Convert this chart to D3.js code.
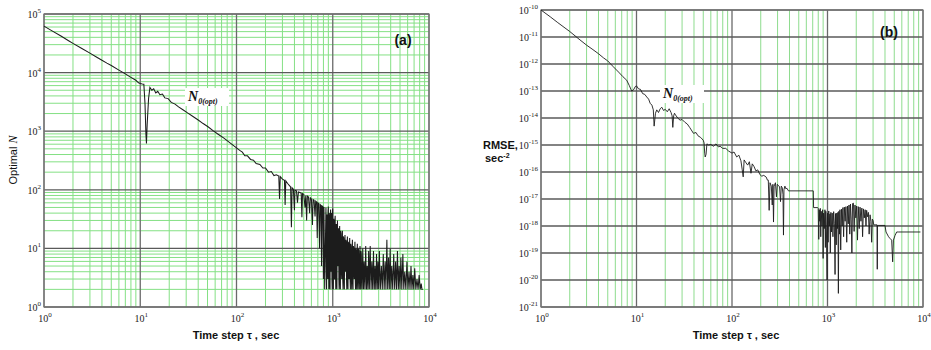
<!DOCTYPE html>
<html>
<head>
<meta charset="utf-8">
<script src="https://cdn.jsdelivr.net/npm/d3@7"></script>
<style>
  body { margin: 0; background: #fff; }
  svg { display: block; }
</style>
</head>
<body>
<div id="chart"></div>
<script>
// ---- data ----
// tick exponents (labels are 10^e)
const xTickExp = [0, 1, 2, 3, 4];
const yTickExpA = [0, 1, 2, 3, 4, 5];
const yTickExpB = [-21, -20, -19, -18, -17, -16, -15, -14, -13, -12, -11, -10];

// panel (a): optimal N vs time step tau [sec, N]
const optNSmooth = [[1,62000],[1.2,52000],[1.5,42000],[1.8,35000],[2,31500],[2.5,25500],[3,21500],[3.5,18500],[4,16200],[4.5,14500],[5,13200],[6,11000],[7,9500],[8,8300],[9,7400],[9.6,6700],[10,6500],[10.5,6400],[10.9,6350],[11.2,3000],[11.45,900],[11.6,620],[11.8,1300],[12.2,3600],[12.6,5600],[13.2,5000],[13.8,5300],[14.5,4500],[15.2,4800],[16,4200],[17,4300],[18,3700],[19.5,3600],[21,3100],[23,2900],[25,2600],[28,2300],[31,2050],[35,1800],[40,1550],[45,1350],[51,1180],[57,1020],[65,880],[74,760],[85,640],[100,520],[108,470],[115,440],[122,380],[130,380],[140,330],[150,320],[160,280],[175,270],[188,235],[200,235],[215,200],[230,205],[245,175],[260,180]];
const optNSpiky = [[275,172],[280,70],[285,168],[300,152],[315,145],[320,55],[325,142],[340,128],[355,118],[365,112],[372,23],[378,108],[390,102],[400,45],[405,98],[420,96],[430,60],[440,92],[455,90],[470,88],[478,34],[485,86],[500,84],[515,50],[525,80],[535,30],[545,78],[560,75],[575,40],[585,73],[600,70],[615,25],[625,68],[640,66],[655,35],[665,64],[680,62],[690,15],[700,60],[715,58],[730,10],[740,56],[755,54],[765,5],[775,53],[790,52],[800,3],[810,51],[825,2]];
const optNDense = [[850,50],[856,8],[862,2],[868,34],[875,38],[881,4],[887,3],[894,44],[900,52],[906,6],[912,2],[918,40],[925,30],[931,3],[937,2],[943,36],[950,46],[956,5],[962,4],[968,30],[975,40],[981,3],[987,2],[993,42],[1000,48],[1008,4],[1015,2],[1022,32],[1030,28],[1038,3],[1045,3],[1052,30],[1060,36],[1068,4],[1075,2],[1082,24],[1090,26],[1098,3],[1105,2],[1112,22],[1120,30],[1128,6],[1135,5],[1142,20],[1150,22],[1158,3],[1165,2],[1172,18],[1180,24],[1190,3],[1200,2],[1210,20],[1220,18],[1230,4],[1240,3],[1250,14],[1260,20],[1270,3],[1280,2],[1290,16],[1300,15],[1310,3],[1320,2],[1330,12],[1340,17],[1350,5],[1360,4],[1370,14],[1380,13],[1390,3],[1400,2],[1410,11],[1420,16],[1430,3],[1440,2],[1450,13],[1460,12],[1470,4],[1480,3],[1490,10],[1500,15],[1512,3],[1525,2],[1537,12],[1550,11],[1562,3],[1575,2],[1587,9],[1600,14],[1612,3],[1625,2],[1637,11],[1650,10],[1662,4],[1675,3],[1687,8],[1700,13],[1712,3],[1725,2],[1737,10],[1750,9],[1762,3],[1775,2],[1787,8],[1800,12],[1815,3],[1830,2],[1845,10],[1860,9],[1875,3],[1890,2],[1905,7],[1920,11],[1935,3],[1950,2],[1965,9],[1980,8],[1997,3],[2015,2]];
const optNTail = [[2050,10],[2085,2],[2120,6],[2160,2],[2200,11],[2240,2],[2280,5],[2320,2],[2360,9],[2400,2],[2450,11],[2500,2],[2550,6],[2600,2],[2650,9],[2700,2],[2750,5],[2800,2],[2850,8],[2900,2],[2950,6],[3000,2],[3050,9],[3120,2],[3200,5],[3270,2],[3350,8],[3420,2],[3500,6],[3570,2],[3650,14],[3720,2],[3800,7],[3870,2],[3950,10],[4020,2],[4100,5],[4200,2],[4300,8],[4400,2],[4500,6],[4600,2],[4700,9],[4800,2],[4900,5],[5000,2],[5100,7],[5220,2],[5350,8],[5470,2],[5600,4],[5750,2],[5900,6],[6050,2],[6200,4],[6350,2],[6500,5],[6650,2],[6800,3.5],[6950,2],[7100,4.6],[7300,2],[7500,3],[7700,2],[7900,3.5],[8100,2],[8300,2.5],[8450,2],[8600,2]];

// panel (b): RMSE vs time step tau [sec, sec^-2]
const rmseSmooth = [[1,1e-10],[1.25,5.6e-11],[1.5,3.4e-11],[2,1.6e-11],[2.56,7.8e-12],[3,5e-12],[3.5,3.4e-12],[4,2.4e-12],[4.5,1.7e-12],[5,1.3e-12],[5.7,8e-13],[6.5,5e-13],[7.2,3.4e-13],[7.9,2.5e-13],[8.4,1.6e-13],[8.9,1.0e-13],[9.3,1.1e-13],[9.7,1.45e-13],[10,1.55e-13],[10.5,1.2e-13],[11,1.15e-13],[11.6,8e-14],[12.2,7.5e-14],[12.8,6e-14],[13.4,5e-14],[13.9,3.5e-14],[14.5,3e-14],[15,2e-14],[15.3,5e-15],[15.8,1.5e-14],[16.3,2e-14],[17,1.6e-14],[17.7,2.2e-14],[18.4,2.5e-14],[19.2,1.9e-14],[20,2.1e-14],[21,1.7e-14],[22,2.2e-14],[23,1.6e-14],[23.6,1.2e-14],[24,4.5e-15],[24.5,1.2e-14],[25,1.5e-14],[25.6,1.3e-14],[27,1.0e-14],[28.6,8.3e-15],[30,8.8e-15],[32,7e-15],[34,6e-15],[36,4.5e-15],[39.5,2.7e-15],[42,2.9e-15],[44,2.2e-15],[47,1.9e-15],[50,1.5e-15],[51,1.2e-15],[51.8,5e-16],[52.4,3.6e-16],[53.5,4.5e-16],[54.6,1.1e-15],[57,1.0e-15],[60,1.05e-15],[64,9e-16],[68,1.1e-15],[72,8.5e-16],[75,9e-16],[80,7.5e-16],[86,7.5e-16],[92,6e-16],[100,5e-16],[105,5.5e-16],[112,3.6e-16],[118,4.2e-16],[124,2.6e-16],[128,1.2e-16],[131,6.6e-17],[134,2.8e-16],[140,2.2e-16],[146,1.8e-16],[152,2.4e-16],[158,9e-17],[163,2e-16],[170,1.6e-16],[178,1.1e-16],[186,1.2e-16],[196,8e-17],[205,7e-17],[215,7.5e-17],[228,6.5e-17],[235,5e-17]];
const rmseSteps = [[240,5e-17],[245,3.8e-18],[250,4e-17],[258,3e-17],[264,6e-18],[268,3.5e-17],[272,1.4e-18],[276,3e-17],[285,4e-17],[292,1.2e-17],[298,3.5e-17],[306,3.2e-17],[315,2.8e-17],[322,8e-18],[328,3e-17],[336,2.6e-17],[342,1.5e-17],[346,4.6e-19],[350,2.2e-17],[358,3e-17],[366,2.4e-17],[376,2.5e-17],[390,2e-17],[710,2e-17],[715,4.8e-18],[790,4.8e-18]];
const rmseDense = [[800,4.5e-18],[810,3.2e-19],[820,4e-18],[830,1.5e-18],[840,4.5e-18],[850,4e-19],[860,3.5e-18],[875,1e-18],[890,4e-18],[900,6.3e-20],[910,3e-18],[925,8e-19],[940,4e-18],[950,1.6e-19],[960,3.5e-18],[975,6e-19],[990,1e-20],[1000,3e-18],[1015,2.5e-19],[1030,3.6e-18],[1045,1e-18],[1060,2.8e-18],[1070,1e-19],[1085,3.2e-18],[1100,6e-19],[1120,3e-18],[1140,4e-19],[1160,3.4e-18],[1180,1.2e-18],[1200,1.6e-20],[1215,2.9e-18],[1235,2e-19],[1250,3e-18],[1270,8e-19],[1285,3.2e-18],[1300,3.2e-21],[1315,3.5e-18],[1335,5e-19],[1350,4e-18],[1375,1.3e-19],[1400,4.2e-18],[1425,1e-18],[1450,4.8e-18],[1475,4e-19],[1500,5e-18],[1530,1.5e-18],[1560,5.2e-18],[1590,2.5e-19],[1620,5.5e-18],[1650,1.2e-18],[1680,6e-18],[1710,5e-19],[1740,6.5e-18],[1770,1.8e-18],[1800,1e-19],[1830,6.8e-18],[1870,7e-18],[1900,6.3e-19],[1940,6e-18],[1980,2e-18],[2020,5.5e-18],[2060,3e-19],[2100,5.2e-18],[2150,8e-19],[2190,5e-18],[2240,1.5e-18],[2290,4.6e-18],[2330,4e-19],[2380,4.3e-18],[2430,2e-18],[2480,4e-18],[2530,1e-18],[2570,3.8e-18],[2620,2.2e-18],[2680,3.2e-18],[2730,5e-19],[2790,2.6e-18],[2850,1.5e-18],[2900,2.5e-19],[2950,1.8e-18],[3000,1.6e-18]];
const rmseTail = [[3050,1.1e-18],[3300,1.1e-18],[3320,2.5e-20],[3340,1.05e-18],[4000,1.05e-18],[4100,6e-19],[4360,4e-19],[4500,3.5e-19],[4700,3e-19],[4810,4.7e-20],[4900,3e-19],[5100,4.5e-19],[5300,6e-19],[5500,6e-19],[9400,6e-19]];

const W = 931, H = 350;
const svg = d3.select("#chart").append("svg").attr("width", W).attr("height", H);

const isDecade = v => Math.abs(Math.log10(v) - Math.round(Math.log10(v))) < 1e-6;

function drawPanel(p) {
  const x = d3.scaleLog().domain([1, 1e4]).range([p.left, p.right]);
  const y = d3.scaleLog().domain(p.yDomain).range([p.bottom, p.top]);
  const g = svg.append("g");

  const xt = x.ticks();
  const yt = y.ticks();

  // green minor grid
  g.selectAll(".gx").data(xt.filter(v => !isDecade(v))).join("line")
    .attr("x1", d => x(d)).attr("x2", d => x(d))
    .attr("y1", p.top).attr("y2", p.bottom)
    .attr("stroke", p.green).attr("stroke-width", 1);
  if (p.yMinor) {
    g.selectAll(".gy").data(yt.filter(v => !isDecade(v))).join("line")
      .attr("y1", d => y(d)).attr("y2", d => y(d))
      .attr("x1", p.left).attr("x2", p.right)
      .attr("stroke", p.green).attr("stroke-width", 1);
  }
  // dark decade grid
  g.selectAll(".dx").data(xt.filter(isDecade)).join("line")
    .attr("x1", d => x(d)).attr("x2", d => x(d))
    .attr("y1", p.top).attr("y2", p.bottom)
    .attr("stroke", "#6a6a6a").attr("stroke-width", 1.3);
  g.selectAll(".dy").data(yt.filter(isDecade)).join("line")
    .attr("y1", d => y(d)).attr("y2", d => y(d))
    .attr("x1", p.left).attr("x2", p.right)
    .attr("stroke", "#5a5a5a").attr("stroke-width", 1.3);

  g.append("rect")
    .attr("x", p.left).attr("y", p.top)
    .attr("width", p.right - p.left).attr("height", p.bottom - p.top)
    .attr("fill", "none").attr("stroke", "#777").attr("stroke-width", 1.2);

  // curve
  g.append("path")
    .datum(p.series)
    .attr("d", d3.line().x(d => x(d[0])).y(d => y(d[1])))
    .attr("fill", "none").attr("stroke", "#1c1c1c").attr("stroke-width", p.lineW);

  // tick labels
  const xl = g.selectAll(".xl").data(xTickExp).join("text")
    .attr("x", d => x(Math.pow(10, d)) + 1).attr("y", p.bottom + 15)
    .attr("text-anchor", "middle")
    .style("font-family", "'Liberation Serif', 'DejaVu Serif', serif")
    .style("font-size", "10px").attr("fill", "#222");
  xl.append("tspan").text("10");
  xl.append("tspan").attr("dy", -5).style("font-size", "7px").text(d => d);

  const yl = g.selectAll(".yl").data(p.yExp).join("text")
    .attr("x", p.left - 3).attr("y", d => y(Math.pow(10, d)) + 4)
    .attr("text-anchor", "end")
    .style("font-family", "'Liberation Serif', 'DejaVu Serif', serif")
    .style("font-size", "10px").attr("fill", "#222");
  yl.append("tspan").text("10");
  yl.append("tspan").attr("dy", -5).style("font-size", "7px").text(d => d < 0 ? "-" + (-d) : d);

  // x axis title
  g.append("text")
    .attr("x", p.xTitleX).attr("y", 339)
    .attr("text-anchor", "middle")
    .style("font-family", "'Liberation Sans', Arial, sans-serif")
    .style("font-size", "11px").style("font-weight", "bold").attr("fill", "#111")
    .text("Time step \u03c4 , sec");

  // curve annotation with white box
  g.append("rect")
    .attr("x", p.note[0] - 3).attr("y", p.note[1] - 13)
    .attr("width", 44).attr("height", 18).attr("fill", "#fff");
  const nt = g.append("text")
    .attr("x", p.note[0]).attr("y", p.note[1])
    .style("font-family", "'Liberation Serif', 'DejaVu Serif', serif")
    .style("font-style", "italic").style("font-weight", "bold").attr("fill", "#111");
  nt.append("tspan").style("font-size", "14px").text("N");
  nt.append("tspan").attr("dy", 3).style("font-size", "8px").text("0(opt)");

  // panel letter
  g.append("text")
    .attr("x", p.letter[0]).attr("y", p.letter[1])
    .attr("text-anchor", "middle")
    .style("font-family", "'Liberation Sans', Arial, sans-serif")
    .style("font-size", "14px").style("font-weight", "bold").attr("fill", "#111")
    .text(p.letterText);
}

drawPanel({
  left: 44, right: 429, top: 14, bottom: 307,
  yDomain: [1, 1e5], yExp: yTickExpA, yMinor: true,
  green: "#84e084", lineW: 1.05,
  series: optNSmooth.concat(optNSpiky, optNDense, optNTail),
  xTitleX: 236, note: [188, 101], letter: [403, 45], letterText: "(a)"
});

drawPanel({
  left: 541, right: 923, top: 10, bottom: 307,
  yDomain: [1e-21, 1e-10], yExp: yTickExpB, yMinor: false,
  green: "#8edc8e", lineW: 0.9,
  series: rmseSmooth.concat(rmseSteps, rmseDense, rmseTail),
  xTitleX: 736, note: [663, 98], letter: [889, 37], letterText: "(b)"
});

// y axis titles
const ya = svg.append("text")
  .attr("transform", "translate(17,160) rotate(-90)")
  .attr("text-anchor", "middle")
  .style("font-family", "'Liberation Sans', Arial, sans-serif")
  .style("font-size", "11px").attr("fill", "#111");
ya.append("tspan").text("Optimal ");
ya.append("tspan").style("font-family", "'Liberation Serif', serif")
  .style("font-style", "italic").style("font-size", "12px").text("N");

svg.append("text")
  .attr("x", 483).attr("y", 149)
  .style("font-family", "'Liberation Sans', Arial, sans-serif")
  .style("font-size", "11px").style("font-weight", "bold").attr("fill", "#111")
  .text("RMSE,");
const sb = svg.append("text")
  .attr("x", 485).attr("y", 162)
  .style("font-family", "'Liberation Sans', Arial, sans-serif")
  .style("font-size", "11px").style("font-weight", "bold").attr("fill", "#111");
sb.append("tspan").text("sec");
sb.append("tspan").attr("dy", -4).style("font-size", "7px").text("-2");
</script>
</body>
</html>
